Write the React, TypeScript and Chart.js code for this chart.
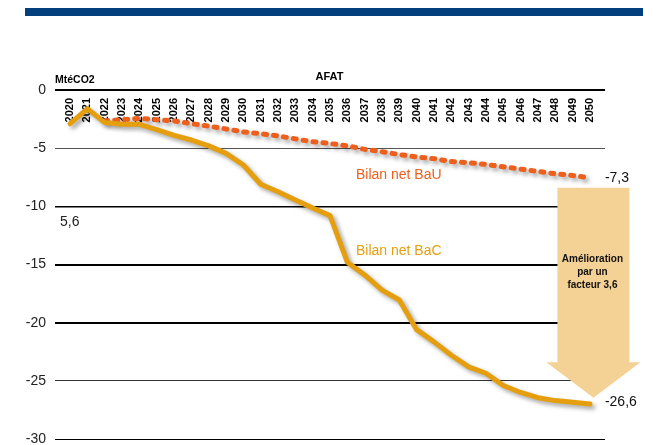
import React, { useEffect, useRef } from "react";
import { Chart, registerables } from "chart.js";

Chart.register(...registerables);

const years = [
  2020, 2021, 2022, 2023, 2024, 2025, 2026, 2027, 2028, 2029, 2030,
  2031, 2032, 2033, 2034, 2035, 2036, 2037, 2038, 2039, 2040,
  2041, 2042, 2043, 2044, 2045, 2046, 2047, 2048, 2049, 2050,
];

const bauValues: (number | null)[] = [
  null, null, -2.65, -2.55, -2.45, -2.55, -2.65, -2.9, -3.1, -3.35, -3.6,
  -3.75, -3.95, -4.2, -4.45, -4.6, -4.8, -5.1, -5.3, -5.55, -5.75,
  -5.9, -6.15, -6.25, -6.4, -6.6, -6.8, -7.0, -7.2, -7.35, -7.55,
];

const bacValues: number[] = [
  -2.9, -1.6, -2.8, -2.95, -2.95, -3.4, -3.9, -4.3, -4.8, -5.45, -6.45,
  -8.1, -8.75, -9.45, -10.15, -10.8, -14.8, -15.9, -17.2, -18.05, -20.6,
  -21.65, -22.8, -23.8, -24.35, -25.4, -26.0, -26.45, -26.7, -26.85, -27.0,
];

const yTicks = [0, -5, -10, -15, -20, -25, -30];

const unitLabel = "MtéCO2";
const chartTitle = "AFAT";
const bauLabel = "Bilan net BaU";
const bacLabel = "Bilan net BaC";
const bauEndLabel = "-7,3";
const bacEndLabel = "-26,6";
const sideNote = "5,6";
const arrowText = ["Amélioration", "par un", "facteur 3,6"];

const BAU_COLOR = "#EF5F1C";
const BAC_COLOR = "#E59F0E";
const ARROW_COLOR = "#F4D195";
const BANNER_COLOR = "#033F7C";

export default function App() {
  const canvasRef = useRef<HTMLCanvasElement | null>(null);

  useEffect(() => {
    const canvas = canvasRef.current;
    if (!canvas) return;

    const decorPlugin = {
      id: "decor",
      beforeDraw(chart: any) {
        const ctx = chart.ctx;
        ctx.save();
        ctx.fillStyle = "#ffffff";
        ctx.fillRect(0, 0, chart.width, chart.height);
        ctx.fillStyle = BANNER_COLOR;
        ctx.fillRect(25, 8, 618, 8);
        ctx.restore();
      },
      beforeDatasetsDraw(chart: any) {
        const ctx = chart.ctx;
        const xs = chart.scales.x;
        const ys = chart.scales.y;
        ctx.save();

        // Arrow
        const cx = xs.getPixelForValue(2050) + 3.5;
        const top = ys.getPixelForValue(-8.4);
        const headBase = ys.getPixelForValue(-23.4);
        const tip = ys.getPixelForValue(-26.45);
        ctx.fillStyle = ARROW_COLOR;
        ctx.beginPath();
        ctx.moveTo(cx - 36, top);
        ctx.lineTo(cx + 36, top);
        ctx.lineTo(cx + 36, headBase);
        ctx.lineTo(cx + 47, headBase);
        ctx.lineTo(cx, tip);
        ctx.lineTo(cx - 47, headBase);
        ctx.lineTo(cx - 36, headBase);
        ctx.closePath();
        ctx.fill();

        ctx.fillStyle = "#111";
        ctx.font = "bold 10px 'Liberation Sans', Arial, sans-serif";
        ctx.textAlign = "center";
        ctx.textBaseline = "middle";
        arrowText.forEach((t, i) => {
          ctx.fillText(t, cx - 1, 259.5 + i * 13);
        });

        // Year labels (rotated)
        ctx.font = "bold 11px 'Liberation Sans', Arial, sans-serif";
        ctx.fillStyle = "#000";
        ctx.textAlign = "right";
        ctx.textBaseline = "middle";
        years.forEach((yr) => {
          const px = xs.getPixelForValue(yr);
          ctx.save();
          ctx.translate(px, ys.getPixelForValue(0) + 8);
          ctx.rotate(-Math.PI / 2);
          ctx.fillText(String(yr), 0, 0);
          ctx.restore();
        });

        // Titles
        ctx.textAlign = "left";
        ctx.font = "bold 10.5px 'Liberation Sans', Arial, sans-serif";
        ctx.fillText(unitLabel, 55, 80);
        ctx.textAlign = "center";
        ctx.font = "bold 11px 'Liberation Sans', Arial, sans-serif";
        ctx.fillText(chartTitle, 329.5, 77);

        // Texts
        ctx.font = "14px 'Liberation Sans', Arial, sans-serif";
        ctx.textAlign = "left";
        ctx.fillStyle = "#222";
        ctx.fillText(sideNote, 60, 222);
        ctx.fillStyle = BAU_COLOR;
        ctx.fillText(bauLabel, 356, 175);
        ctx.fillStyle = BAC_COLOR;
        ctx.fillText(bacLabel, 356, 251);

        ctx.fillStyle = "#111";
        const lastBau = bauValues[bauValues.length - 1] as number;
        const lastBac = bacValues[bacValues.length - 1];
        ctx.fillText(bauEndLabel, xs.getPixelForValue(2050) + 15, ys.getPixelForValue(lastBau));
        ctx.fillText(bacEndLabel, xs.getPixelForValue(2050) + 15, ys.getPixelForValue(lastBac) - 2);

        ctx.restore();
      },
      beforeDatasetDraw(chart: any) {
        const ctx = chart.ctx;
        ctx.save();
        ctx.shadowColor = "rgba(0,0,0,0.35)";
        ctx.shadowBlur = 4;
        ctx.shadowOffsetX = 3;
        ctx.shadowOffsetY = 3;
      },
      afterDatasetDraw(chart: any) {
        chart.ctx.restore();
      },
    };

    const chart = new Chart(canvas, {
      type: "line",
      data: {
        datasets: [
          {
            label: bacLabel,
            data: years.map((yr, i) => ({ x: yr, y: bacValues[i] })),
            borderColor: BAC_COLOR,
            borderWidth: 5,
            pointRadius: 0,
            tension: 0,
            borderCapStyle: "round",
            borderJoinStyle: "round",
          },
          {
            label: bauLabel,
            data: years.map((yr, i) => ({ x: yr, y: bauValues[i] })),
            borderColor: BAU_COLOR,
            borderWidth: 5,
            borderDash: [3, 7],
            borderCapStyle: "round",
            pointRadius: 0,
            tension: 0,
          },
        ],
      },
      options: {
        animation: false,
        responsive: false,
        devicePixelRatio: 1,
        layout: { padding: { top: 90, bottom: 6, left: 0, right: 60 } },
        plugins: {
          legend: { display: false },
          tooltip: { enabled: false },
          title: { display: false },
        },
        scales: {
          x: {
            type: "linear",
            min: 2019.13,
            max: 2050.87,
            display: false,
          },
          y: {
            min: -30,
            max: 0,
            afterFit(scale: any) {
              scale.width = 55;
              scale.paddingTop = 0;
              scale.paddingBottom = 0;
            },
            afterBuildTicks(scale: any) {
              scale.ticks = yTicks.map((v) => ({ value: v }));
            },
            border: { display: false },
            grid: {
              drawTicks: false,
              color: (c: any) => {
                const v = c.tick ? c.tick.value : 0;
                if (v === -5) return "#555";
                if (v === -25) return "#333";
                return "#000";
              },
              lineWidth: (c: any) => {
                const v = c.tick ? c.tick.value : 0;
                if (v === 0 || v === -15 || v === -20) return 2;
                if (v === -10) return 1.5;
                return 1;
              },
            },
            ticks: {
              padding: 9,
              color: "#222",
              font: { family: "'Liberation Sans', Arial, sans-serif", size: 14 },
              callback: (v: any) => String(v),
            },
          },
        },
      },
      plugins: [decorPlugin],
    });

    return () => {
      chart.destroy();
    };
  }, []);

  return (
    <div style={{ position: "absolute", left: 0, top: 0, width: 665, height: 445 }}>
      <canvas ref={canvasRef} width={665} height={445} style={{ display: "block" }} />
    </div>
  );
}
